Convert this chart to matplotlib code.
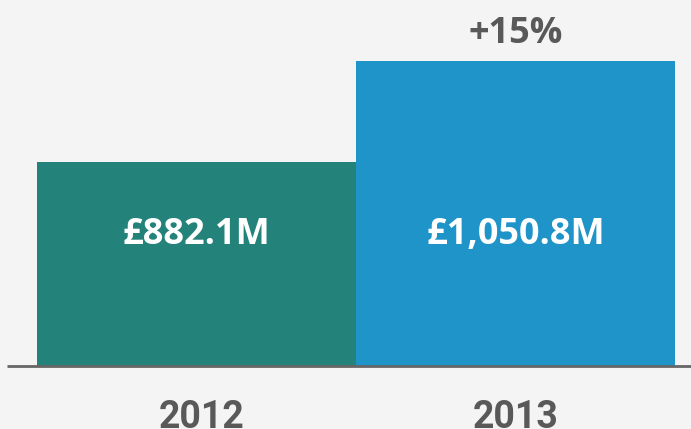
import matplotlib.pyplot as plt

years = ["2012", "2013"]
revenue = [882.1, 1050.8]
value_labels = ["£882.1M", "£1,050.8M"]
growth_label = "+15%"

bar_colors = ["#23837a", "#1e94c9"]
bg = "#f4f4f4"
grey = "#595959"

W, H = 691, 429
fig = plt.figure(figsize=(W / 100, H / 100), dpi=100)
fig.patch.set_facecolor(bg)

# axes spans from the baseline (366px from top) up to the top edge
ax = fig.add_axes([0, 63 / H, 1, 366 / H])
ax.set_facecolor(bg)
ax.bar([0, 1], revenue, width=1.0, color=bar_colors)
ax.set_xlim(-0.5 - 37 / 319, 1.5 + 16 / 319)
ax.set_ylim(541.4, 1152.7)
for s in ax.spines.values():
    s.set_visible(False)
ax.set_xticks([])
ax.set_yticks([])

# baseline
ax.plot([7 / W, 1], [0, 0], transform=ax.transAxes, color="#666666", lw=2.0,
        clip_on=False, solid_capstyle="butt")

# value labels inside bars (baseline ~244px from top)
for x, lab in zip([0, 1], value_labels):
    ax.text(x, 0, lab, ha="center", va="baseline", color="white",
            fontsize=26, fontweight="bold", family="Open Sans",
            transform=ax.get_xaxis_transform() + plt.matplotlib.transforms.ScaledTranslation(0, (366 - 244) / 100, fig.dpi_scale_trans))

# growth label above 2013 bar
fig.text(516 / W, 1 - 43 / H, growth_label, ha="center", va="baseline",
         color=grey, fontsize=26, fontweight="bold", family="Open Sans")

# year labels, partly cut off by the bottom edge
for x, yr in zip([0, 1], years):
    ax.text(x, 0, yr, ha="center", va="baseline", color=grey,
            fontsize=27, fontweight="bold", family="Roboto",
            transform=ax.get_xaxis_transform() + plt.matplotlib.transforms.ScaledTranslation(5 / 100 if x == 0 else 0, -(428 - 366) / 100, fig.dpi_scale_trans))

fig.savefig("out.png", dpi=100, facecolor=bg)
